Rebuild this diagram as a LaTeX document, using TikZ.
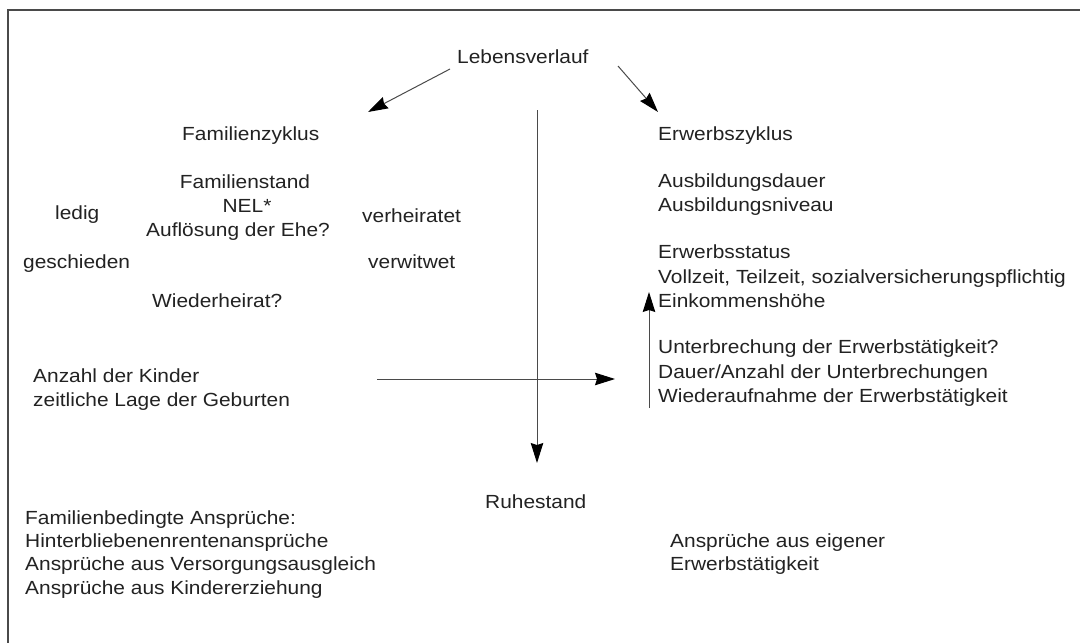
\documentclass[tikz,border=0pt]{standalone}
\usepackage{fontspec}
\setmainfont{Liberation Sans}[FakeStretch=1.1]
\usetikzlibrary{arrows.meta}
\definecolor{txt}{HTML}{222222}
\definecolor{ln}{HTML}{4A4A4A}
\tikzset{
  lbl/.style={inner sep=0pt, anchor=base west, text=txt, font=\fontsize{19}{24}\selectfont},
  clbl/.style={lbl, anchor=base},
  conn/.style={draw=ln, line width=1pt, -{Stealth[length=20pt,width=12.5pt,inset=2pt,color=black,fill=black]}},
  frame/.style={draw=ln, line width=1.2pt}
}
\begin{document}
\begin{tikzpicture}[x=1pt,y=-1pt]
\useasboundingbox (0,0) rectangle (1080,643);
\fill[white] (0,0) rectangle (1080,643);
% frame
\coordinate (fa) at (8,643);
\coordinate (fb) at (8,10);
\coordinate (fc) at (1080,10);
\draw[frame] (fa) -- (fb) -- (fc);

% top
\node[lbl] (leb) at (457,63) {Lebensverlauf};
\node[lbl] (famz) at (182,140) {Familienzyklus};
\node[lbl] (erwz) at (658,140) {Erwerbszyklus};

% family block
\node[clbl] (fstand) at (245,188) {Familienstand};
\node[clbl] (nel) at (247,212) {NEL*};
\node[clbl] (aufl) at (238,236) {Auflösung der Ehe?};
\node[lbl] (ledig) at (55,219) {ledig};
\node[lbl] (verh) at (362,222) {verheiratet};
\node[lbl] (gesch) at (23,268) {geschieden};
\node[lbl] (verw) at (368,268) {verwitwet};
\node[lbl] (wied) at (152,307) {Wiederheirat?};
\node[lbl] (kind1) at (33,382) {Anzahl der Kinder};
\node[lbl] (kind2) at (33,406) {zeitliche Lage der Geburten};

% work block
\node[lbl] (aus1) at (658,187) {Ausbildungsdauer};
\node[lbl] (aus2) at (658,211) {Ausbildungsniveau};
\node[lbl] (st1) at (658,258) {Erwerbsstatus};
\node[lbl] (st2) at (658,283) {Vollzeit, Teilzeit, sozialversicherungspflichtig};
\node[lbl] (st3) at (658,307) {Einkommenshöhe};
\node[lbl] (un1) at (658,353) {Unterbrechung der Erwerbstätigkeit?};
\node[lbl] (un2) at (658,378) {Dauer/Anzahl der Unterbrechungen};
\node[lbl] (un3) at (658,402) {Wiederaufnahme der Erwerbstätigkeit};

% bottom
\node[lbl] (ruhe) at (485,508) {Ruhestand};
\node[lbl] (fb1) at (25,524) {Familienbedingte Ansprüche:};
\node[lbl] (fb2) at (25,547) {Hinterbliebenenrentenansprüche};
\node[lbl] (fb3) at (25,570) {Ansprüche aus Versorgungsausgleich};
\node[lbl] (fb4) at (25,594) {Ansprüche aus Kindererziehung};
\node[lbl] (eg1) at (670,547) {Ansprüche aus eigener};
\node[lbl] (eg2) at (670,570) {Erwerbstätigkeit};

% connector ends
\coordinate (l0) at (450,69);
\coordinate (l1) at (368,112);
\coordinate (r0) at (618,66);
\coordinate (r1) at (658,112);
\coordinate (v0) at (537,110);
\coordinate (v1) at (537,463);
\coordinate (h0) at (377,379);
\coordinate (h1) at (615,379);
\coordinate (u0) at (649,408);
\coordinate (u1) at (649,292);

\draw[conn] (l0) -- (l1);
\draw[conn] (r0) -- (r1);
\draw[conn] (v0) -- (v1);
\draw[conn] (h0) -- (h1);
\draw[conn] (u0) -- (u1);
\end{tikzpicture}
\end{document}
